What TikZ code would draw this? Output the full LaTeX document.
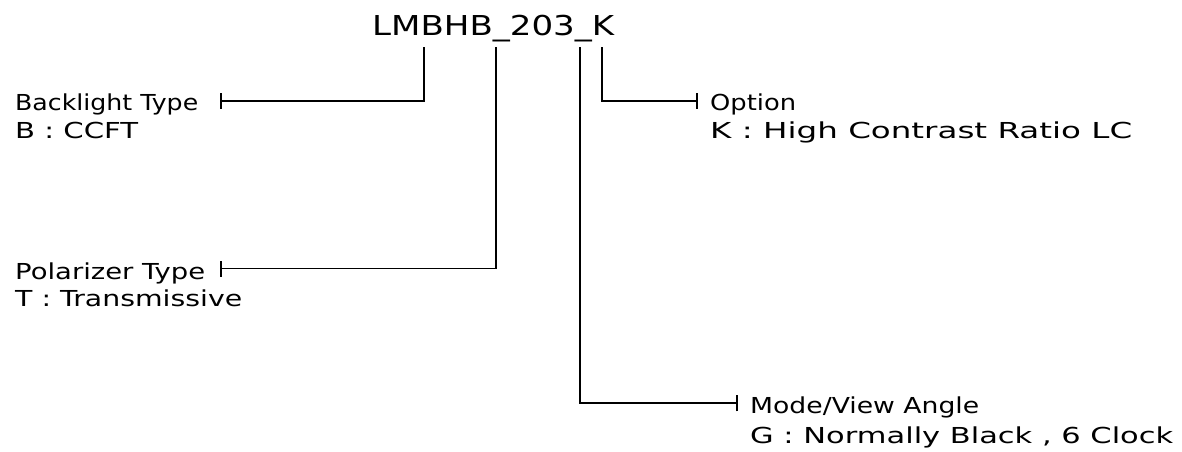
\documentclass[tikz,border=0pt]{standalone}
\usepackage{fontspec}
\setmainfont{DejaVu Sans}
\usetikzlibrary{arrows.meta}
\newcommand{\fitw}[2]{\resizebox{#1pt}{\height}{#2}}
\tikzset{
  lbl/.style={anchor=base west, inner sep=0pt, font=\fontsize{22}{26}\selectfont},
  ttl/.style={anchor=base west, inner sep=0pt, font=\fontsize{27.4}{32}\selectfont},
  conn/.style={line width=1.7pt},
  tick/.style={line width=1.7pt}
}
\begin{document}
\begin{tikzpicture}[x=1pt,y=-1pt]
\useasboundingbox[fill=white] (0,0) rectangle (1182,451);
\node[ttl] (title) at (372,35) {\fitw{242}{LMBHB\_203\_K}};
% start points under the code letters
\coordinate (s1) at (424,47);
\coordinate (s2) at (496,47);
\coordinate (s3) at (580,47);
\coordinate (s4) at (602,47);
% tick ends
\coordinate (e1) at (221,100.7);
\coordinate (e2) at (221,268.5);
\coordinate (e3) at (736.7,403.3);
\coordinate (e4) at (697,100.7);
\draw[conn] (s1) |- (e1);
\draw[conn] (s2) |- (e2);
\draw[conn] (s3) |- (e3);
\draw[conn] (s4) |- (e4);
\foreach \e in {e1,e2,e3,e4}
  \draw[tick] ([yshift=-8pt]\e) -- ([yshift=8pt]\e);
\node[lbl] (bl) at (15,110) {\fitw{183}{Backlight Type}};
\node[lbl] (blv) at (15,138) {\fitw{123}{B : CCFT}};
\node[lbl] (pl) at (15,279) {\fitw{190}{Polarizer Type}};
\node[lbl] (plv) at (15,306) {\fitw{227}{T : Transmissive}};
\node[lbl] (op) at (710,110) {\fitw{86}{Option}};
\node[lbl] (opv) at (710,138) {\fitw{422}{K : High Contrast Ratio LC}};
\node[lbl] (md) at (750,413) {\fitw{229}{Mode/View Angle}};
\node[lbl] (mdv) at (750,443) {\fitw{423}{G : Normally Black , 6 Clock}};
\end{tikzpicture}
\end{document}
